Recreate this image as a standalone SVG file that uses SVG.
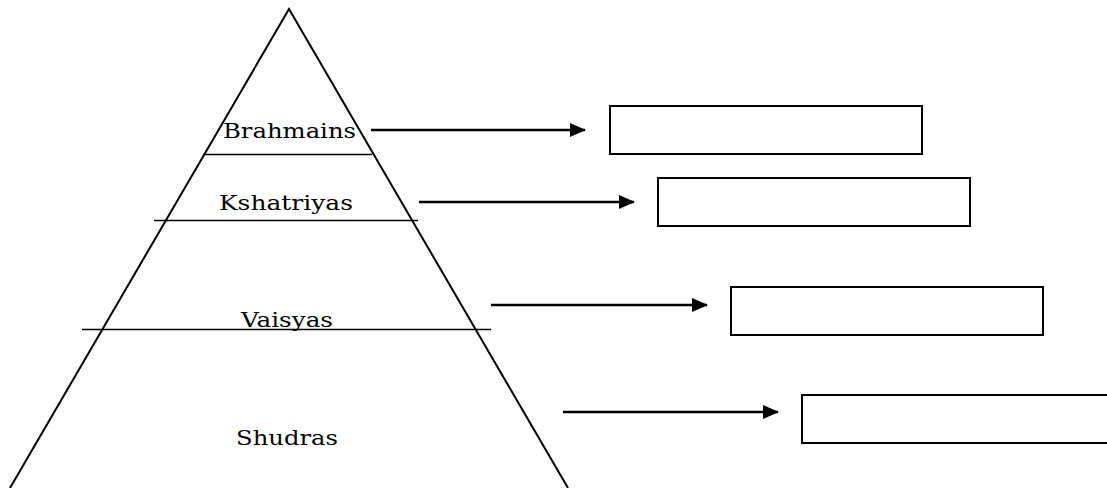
<svg xmlns="http://www.w3.org/2000/svg" width="1107" height="488" viewBox="0 0 1107 488">
<style>
.tri{fill:none;stroke:#000;stroke-width:2}
.div{stroke:#000;stroke-width:1.3}
.lbl{font-family:"DejaVu Serif","Liberation Serif",serif;font-size:21px;fill:#000}
.box{fill:#fff;stroke:#000;stroke-width:2}
.arr{stroke:#000;stroke-width:2.5;fill:none}
</style>
<defs>
<marker id="ah" markerWidth="16" markerHeight="14" refX="15" refY="7" orient="auto" markerUnits="userSpaceOnUse">
<path d="M0,0 L16,7 L0,14 Z" fill="#000"/>
</marker>
</defs>
<rect width="1107" height="488" fill="#fff"/>
<g id="pyramid">
<polyline class="tri" points="10,488 289,9 568,488"/>
<line class="div" x1="203" y1="154.5" x2="372" y2="154.5"/>
<line class="div" x1="154" y1="220.5" x2="418" y2="220.5"/>
<line class="div" x1="82" y1="329.5" x2="491" y2="329.5"/>
</g>
<g id="brahmains"><text class="lbl" x="223" y="138" textLength="133" lengthAdjust="spacingAndGlyphs">Brahmains</text></g>
<g id="kshatriyas"><text class="lbl" x="219" y="210" textLength="134" lengthAdjust="spacingAndGlyphs">Kshatriyas</text></g>
<g id="vaisyas"><text class="lbl" x="241" y="327" textLength="92" lengthAdjust="spacingAndGlyphs">Vaisyas</text></g>
<g id="shudras"><text class="lbl" x="236" y="445" textLength="102" lengthAdjust="spacingAndGlyphs">Shudras</text></g>
<g id="box1"><rect class="box" x="610" y="106" width="312" height="48"/></g>
<g id="box2"><rect class="box" x="658" y="178" width="312" height="48"/></g>
<g id="box3"><rect class="box" x="731" y="287" width="312" height="48"/></g>
<g id="box4"><rect class="box" x="802" y="395" width="320" height="48"/></g>
<g id="connectors">
<line class="arr" x1="371" y1="130" x2="585" y2="130" marker-end="url(#ah)"/>
<line class="arr" x1="419" y1="202" x2="634" y2="202" marker-end="url(#ah)"/>
<line class="arr" x1="491" y1="305" x2="707" y2="305" marker-end="url(#ah)"/>
<line class="arr" x1="563" y1="412" x2="778" y2="412" marker-end="url(#ah)"/>
</g>
</svg>
